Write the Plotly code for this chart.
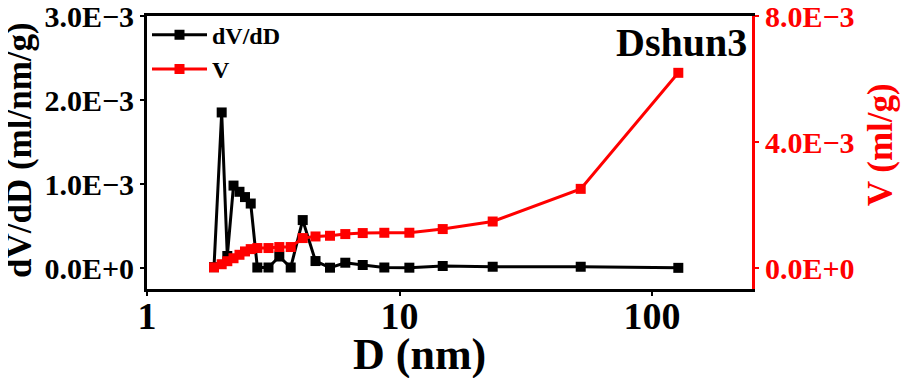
import plotly.graph_objects as go

# Pore diameter D (nm)
D = [1.842, 1.976, 2.080, 2.201, 2.324, 2.444, 2.575, 2.735, 3.028, 3.342,
     3.708, 4.137, 4.649, 5.306, 6.100, 7.151, 8.708, 10.94, 14.83, 23.39,
     52.2, 127.1]
# dV/dD (ml/nm/g)
dVdD = [0.010e-3, 1.853e-3, 0.143e-3, 0.982e-3, 0.908e-3, 0.845e-3, 0.768e-3,
        0.006e-3, 0.006e-3, 0.137e-3, 0.006e-3, 0.571e-3, 0.083e-3, 0.004e-3,
        0.063e-3, 0.036e-3, 0.006e-3, 0.004e-3, 0.024e-3, 0.015e-3, 0.015e-3,
        0.002e-3]
# Cumulative V (ml/g)
V = [0.02e-3, 0.12e-3, 0.216e-3, 0.31e-3, 0.42e-3, 0.526e-3, 0.60e-3,
     0.634e-3, 0.634e-3, 0.666e-3, 0.666e-3, 0.951e-3, 1.002e-3, 1.024e-3,
     1.078e-3, 1.11e-3, 1.119e-3, 1.12e-3, 1.237e-3, 1.477e-3, 2.514e-3,
     6.20e-3]

left_tickvals = [0, 1e-3, 2e-3, 3e-3]
left_ticktext = ["0.0E+0", "1.0E\u22123", "2.0E\u22123", "3.0E\u22123"]
right_tickvals = [0, 4e-3, 8e-3]
right_ticktext = ["0.0E+0", "4.0E\u22123", "8.0E\u22123"]
x_tickvals = [1, 10, 100]
x_ticktext = ["1", "10", "100"]

FONT = "Liberation Serif"
RED = "#ff0000"

fig = go.Figure()
fig.add_trace(go.Scatter(
    x=D, y=dVdD, name="dV/dD", mode="lines+markers",
    line=dict(color="black", width=3),
    marker=dict(symbol="square", size=10, color="black"),
    yaxis="y"))
fig.add_trace(go.Scatter(
    x=D, y=V, name="V", mode="lines+markers",
    line=dict(color=RED, width=3),
    marker=dict(symbol="square", size=10, color=RED),
    yaxis="y2"))

fig.update_layout(
    width=901, height=370,
    margin=dict(l=139, r=157, t=8, b=89, autoexpand=False),
    paper_bgcolor="white", plot_bgcolor="white",
    font=dict(family=FONT, color="black", weight="bold"),
    showlegend=True,
    legend=dict(x=0.0, y=1.012, xanchor="left", yanchor="top",
                bgcolor="rgba(0,0,0,0)", itemwidth=55,
                font=dict(family=FONT, size=24, color="black", weight="bold"),
                tracegroupgap=0, itemsizing="trace"),
    xaxis=dict(type="log", range=[0, 2.396], automargin=False,
               tickvals=x_tickvals, ticktext=x_ticktext,
               tickfont=dict(family=FONT, size=38, color="black", weight="bold"),
               showline=True, linecolor="black", linewidth=3, mirror=True,
               ticks="outside", ticklen=4, tickwidth=2, tickcolor="black",
               ticklabeloverflow="allow", ticklabelstandoff=-13,
               showgrid=False, zeroline=False),
    yaxis=dict(range=[-0.25e-3, 3.002e-3], automargin=False,
               tickvals=left_tickvals, ticktext=left_ticktext,
               tickfont=dict(family=FONT, size=30, color="black", weight="bold"),
               showline=True, linecolor="black", linewidth=3,
               ticks="outside", ticklen=4, tickwidth=2, tickcolor="black",
               ticklabeloverflow="allow",
               showgrid=False, zeroline=False),
    yaxis2=dict(range=[-0.667e-3, 8.005e-3], overlaying="y", side="right",
                automargin=False,
                tickvals=right_tickvals, ticktext=right_ticktext,
                tickfont=dict(family=FONT, size=30, color=RED, weight="bold"),
                showline=True, linecolor=RED, linewidth=3,
                ticks="outside", ticklen=4, tickwidth=2, tickcolor=RED,
                ticklabeloverflow="allow",
                showgrid=False, zeroline=False),
)

fig.add_annotation(text="dV/dD (ml/nm/g)", xref="paper", yref="paper",
                   x=-0.2116, y=0.509, xanchor="center", yanchor="middle",
                   textangle=-90, showarrow=False,
                   font=dict(family=FONT, size=35, color="black", weight="bold"))
fig.add_annotation(text="V (ml/g)", xref="paper", yref="paper",
                   x=1.2116, y=0.527, xanchor="center", yanchor="middle",
                   textangle=-90, showarrow=False,
                   font=dict(family=FONT, size=35, color=RED, weight="bold"))
fig.add_annotation(text="D (nm)", xref="paper", yref="paper",
                   x=0.451, y=-0.24, xanchor="center", yanchor="middle",
                   showarrow=False,
                   font=dict(family=FONT, size=44, color="black", weight="bold"))
fig.add_annotation(text="Dshun3", xref="paper", yref="paper",
                   x=0.995, y=0.993, xanchor="right", yanchor="top",
                   showarrow=False,
                   font=dict(family=FONT, size=40, color="black", weight="bold"))

fig.write_html("out.html")
